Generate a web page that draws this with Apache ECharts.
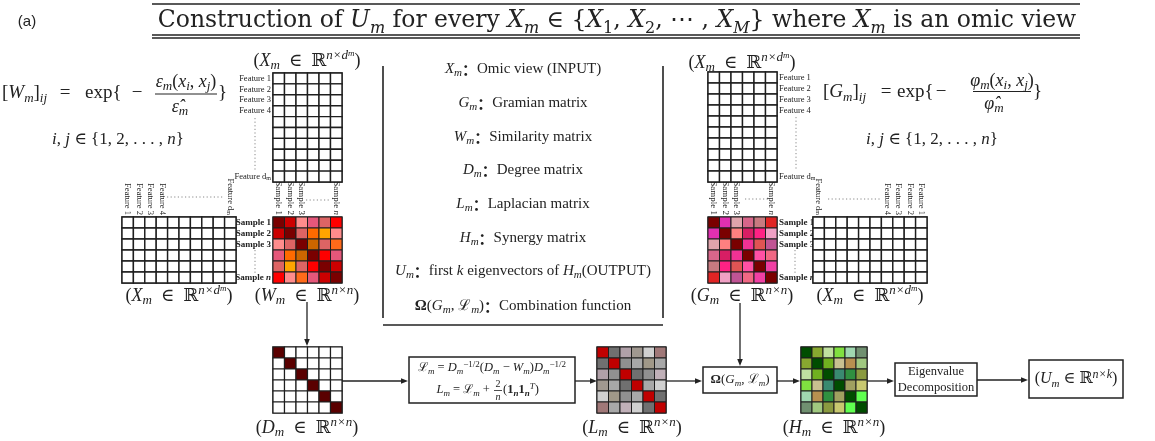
<!DOCTYPE html>
<html><head><meta charset="utf-8">
<script src="https://cdn.jsdelivr.net/npm/echarts@6/dist/echarts.min.js"></script>
<style>html,body{margin:0;padding:0;background:#fff}#c{width:1155px;height:441px}</style>
</head><body><div id="c"></div>
<script>
// ---------------- data ----------------
const FEATURE_ROWS = ['Feature 1','Feature 2','Feature 3','Feature 4','','','','','','Feature d{s|m}'];
const FEATURE_COLS = ['Feature 1','Feature 2','Feature 3','Feature 4','','','','','','Feature d{s|m}'];
const FEATURE_COLS_REV = ['Feature d{s|m}','','','','','','Feature 4','Feature 3','Feature 2','Feature 1'];
const SAMPLE_LABELS = ['Sample 1','Sample 2','Sample 3','','','Sample {i|n}'];

const W_CELLS = [
  ['#7a0000','#cc0000','#ff8c8c','#e5577a','#dd6464','#ff0000'],
  ['#cc0000','#7a0000','#dd6464','#ff6a00','#ffa500','#ff8c8c'],
  ['#ff8c8c','#dd6464','#7a0000','#cc6600','#dd6464','#ff6a1a'],
  ['#e5577a','#ff6a00','#cc6600','#7a0000','#ff0000','#e5577a'],
  ['#dd6464','#ffa500','#dd6464','#ff0000','#7a0000','#cc0000'],
  ['#ff0000','#ff8c8c','#ff6a1a','#e5577a','#cc0000','#7a0000']
];
const G_CELLS = [
  ['#7a0000','#e030b0','#e0a4ac','#d8668a','#c87a80','#e02424'],
  ['#e030b0','#7a0000','#ff8080','#d81e64','#ff2284','#f0a0c4'],
  ['#e0a4ac','#ff8080','#7a0000','#f03294','#e05454','#c05494'],
  ['#d8668a','#d81e64','#f03294','#7a0000','#ff50a4','#f06884'],
  ['#c87a80','#ff2284','#e05454','#ff50a4','#7a0000','#f040a4'],
  ['#e02424','#f0a0c4','#c05494','#f06884','#f040a4','#7a0000']
];
const D_CELLS = [
  ['#5a0000','#ffffff','#ffffff','#ffffff','#ffffff','#ffffff'],
  ['#ffffff','#5a0000','#ffffff','#ffffff','#ffffff','#ffffff'],
  ['#ffffff','#ffffff','#5a0000','#ffffff','#ffffff','#ffffff'],
  ['#ffffff','#ffffff','#ffffff','#5a0000','#ffffff','#ffffff'],
  ['#ffffff','#ffffff','#ffffff','#ffffff','#5a0000','#ffffff'],
  ['#ffffff','#ffffff','#ffffff','#ffffff','#ffffff','#5a0000']
];
const L_CELLS = [
  ['#c00000','#707070','#b0a0a8','#a09890','#d0d0d0','#a07878'],
  ['#707070','#c00000','#909090','#a8a8a8','#a09888','#a8a8a8'],
  ['#b0a0a8','#909090','#c00000','#707070','#909090','#c0b0b8'],
  ['#a09890','#a8a8a8','#707070','#c00000','#a8a8a8','#d0d0d0'],
  ['#d0d0d0','#a09888','#909090','#a8a8a8','#c00000','#707070'],
  ['#a07878','#a8a8a8','#c0b0b8','#d0d0d0','#707070','#c00000']
];
const H_CELLS = [
  ['#004d00','#88a830','#c0e0a0','#80e040','#a0d8b0','#709070'],
  ['#88a830','#004d00','#70b020','#c8c090','#b89050','#a0c880'],
  ['#c0e0a0','#70b020','#004d00','#3a8a70','#309040','#8a9a40'],
  ['#80e040','#c8c090','#3a8a70','#004d00','#a0a060','#c8c870'],
  ['#a0d8b0','#b89050','#309040','#a0a060','#004d00','#60ff50'],
  ['#709070','#a0c880','#8a9a40','#c8c870','#60ff50','#004d00']
];
// blank (unfilled) data matrices: rows x cols
const XTOP_SHAPE = [10, 6];
const XSIDE_SHAPE = [6, 10];

// ---------------- helpers ----------------
const SERIF = "'Liberation Serif','DejaVu Serif',serif";
const DSERIF = "'DejaVu Serif','Liberation Serif',serif";
const INK = '#222';
function blank(shape){ const o=[]; for(let r=0;r<shape[0];r++){const row=[];for(let c=0;c<shape[1];c++)row.push('#ffffff');o.push(row);} return o; }
function richSet(size, fam){
  fam = fam || SERIF;
  const lh = Math.round(size*1.3);
  const base = {fontFamily:fam, fill:INK, color:INK};
  return {
    r: Object.assign({}, base, {fontSize:size, lineHeight:lh}),
    i: Object.assign({}, base, {fontSize:size, fontStyle:'italic', lineHeight:lh}),
    b: Object.assign({}, base, {fontSize:size, fontWeight:'bold', lineHeight:lh}),
    s: Object.assign({}, base, {fontSize:Math.round(size*0.7), fontStyle:'italic', verticalAlign:'bottom', lineHeight:Math.round(size*0.82)}),
    rs: Object.assign({}, base, {fontSize:Math.round(size*0.7), verticalAlign:'bottom', lineHeight:Math.round(size*0.82)}),
    bs: Object.assign({}, base, {fontSize:Math.round(size*0.7), fontWeight:'bold', fontStyle:'italic', verticalAlign:'bottom', lineHeight:Math.round(size*0.82)}),
    p: Object.assign({}, base, {fontSize:Math.round(size*0.72), fontStyle:'italic', verticalAlign:'top', lineHeight:Math.round(size*0.75)}),
    rp: Object.assign({}, base, {fontSize:Math.round(size*0.7), verticalAlign:'top', lineHeight:Math.round(size*0.75)}),
    pp: Object.assign({}, base, {fontSize:Math.round(size*0.5), fontStyle:'italic', verticalAlign:'top', lineHeight:Math.round(size*1.0)}),
    c: {fontFamily:"'Noto Sans CJK SC',sans-serif", fontWeight:'bold', fontSize:size, fill:INK, color:INK, lineHeight:lh}
  };
}
function txt(x, y, str, size, align, family){
  align = align || 'center';
  return {type:'text', x:x, y:y, silent:true, z:10,
    style:{text:str, rich:richSet(size, family), fontSize:size, fontFamily:family||SERIF, fill:INK,
      align:align, textAlign:align, verticalAlign:'middle', textVerticalAlign:'middle'}};
}
function seg(x1,y1,x2,y2,w,dash,color){
  return {type:'line', silent:true, z:5, shape:{x1,y1,x2,y2},
    style:{stroke:color||INK, lineWidth:w||1.3, lineDash:dash||null}};
}
function arrow(x1,y1,x2,y2){
  const L=7, H=2.8;
  const dx=x2-x1, dy=y2-y1, len=Math.hypot(dx,dy), ux=dx/len, uy=dy/len;
  const bx=x2-ux*L, by=y2-uy*L;
  return [seg(x1,y1,bx,by,1.3),
    {type:'polygon', silent:true, z:6, shape:{points:[[x2,y2],[bx-uy*H,by+ux*H],[bx+uy*H,by-ux*H]]}, style:{fill:INK}}];
}
function box(x,y,w,h){
  return {type:'rect', silent:true, z:4, shape:{x,y,width:w,height:h}, style:{fill:'#fff', stroke:INK, lineWidth:1.5}};
}

// ---------------- matrices (grids) ----------------
const MATS = [
  {cells:blank(XTOP_SHAPE), left:273, top:73, w:69, h:109, yl:FEATURE_ROWS, yp:'left', bw:1.4},
  {cells:blank(XSIDE_SHAPE), left:122, top:217, w:114, h:66, xl:FEATURE_COLS, bw:1.4},
  {cells:W_CELLS, left:273, top:217, w:69, h:66, xl:SAMPLE_LABELS, yl:SAMPLE_LABELS, yp:'left', bw:1},
  {cells:D_CELLS, left:273, top:347, w:69, h:66, bw:1.2},
  {cells:L_CELLS, left:597, top:347, w:69, h:66, bw:1},
  {cells:H_CELLS, left:801, top:347, w:66, h:66, bw:1},
  {cells:blank(XTOP_SHAPE), left:708, top:72, w:69, h:110, yl:FEATURE_ROWS, yp:'right', bw:1.4},
  {cells:G_CELLS, left:708, top:217, w:69, h:66, xl:SAMPLE_LABELS, yl:SAMPLE_LABELS, yp:'right', bw:1},
  {cells:blank(XSIDE_SHAPE), left:813, top:217, w:114, h:66, xl:FEATURE_COLS_REV, bw:1.4}
];
const labelRich = {
  s:{fontFamily:SERIF, fontSize:6, verticalAlign:'bottom', lineHeight:9, color:INK},
  i:{fontFamily:SERIF, fontSize:9, fontStyle:'italic', color:INK, lineHeight:11}
};
const grids=[], xAxes=[], yAxes=[], series=[];
MATS.forEach((m, gi) => {
  const rows = m.cells.length, cols = m.cells[0].length;
  grids.push({left:m.left, top:m.top, width:m.w, height:m.h, show:true, borderColor:'#3a3a3a', borderWidth:1.6,
    backgroundColor:'transparent', containLabel:false, outerBoundsMode:'none'});
  const xcats = [], ycats = [];
  for (let c=0;c<cols;c++) xcats.push('c'+c);
  for (let r=0;r<rows;r++) ycats.push('r'+r);
  const isSample = m.xl === SAMPLE_LABELS;
  xAxes.push({gridIndex:gi, type:'category', data:xcats, position:'top',
    axisLine:{show:false}, axisTick:{show:false}, splitLine:{show:false},
    axisLabel:{show:!!m.xl, rotate:90, interval:0, margin:2, fontFamily:SERIF, fontSize:isSample?9:8.5, color:INK,
      formatter:(v,i)=> m.xl ? m.xl[i] : '', rich:labelRich}});
  const ySample = m.yl === SAMPLE_LABELS;
  yAxes.push({gridIndex:gi, type:'category', data:ycats, inverse:true, position:m.yp||'left',
    axisLine:{show:false}, axisTick:{show:false}, splitLine:{show:false},
    axisLabel:{show:!!m.yl, interval:0, margin:2, fontFamily:SERIF, fontSize:ySample?9:8.5, color:INK,
      fontWeight: ySample ? 'bold' : 'normal',
      formatter:(v,i)=> m.yl ? m.yl[i] : '', rich:labelRich}});
  const data = [];
  m.cells.forEach((row, r) => row.forEach((col, c) => data.push({value:[c, r], itemStyle:{color:col}})));
  series.push({type:'custom', xAxisIndex:gi, yAxisIndex:gi, silent:true, animation:false, data:data,
    renderItem:(params, api) => {
      const p = api.coord([api.value(0), api.value(1)]);
      const s = api.size([1, 1]);
      return {type:'rect', shape:{x:p[0]-s[0]/2, y:p[1]-s[1]/2, width:s[0], height:s[1]},
        style:{fill:api.visual('color'), stroke:'#1e1e1e', lineWidth:m.bw}};
    }});
});

// ---------------- text & connectors ----------------
const G = [];
// title
G.push(txt(27, 22, '(a)', 15, 'center', "'Liberation Sans','DejaVu Sans',sans-serif"));
G.push(txt(617, 21, '{r|Construction of }{i|U}{s|m}{r| for every }{i|X}{s|m}{r| ∈ {}{i|X}{rs|1}{r|, }{i|X}{rs|2}{r|, ⋯ , }{i|X}{s|M}}{r| where }{i|X}{s|m}{r| is an omic view}', 23.5, 'center', DSERIF));
G.push(seg(152, 4, 1080, 4, 1.5));
G.push(seg(152, 35, 1080, 35, 1.5));
G.push(seg(152, 38, 1080, 38, 1.5));

// left formula  [W_m]_ij = exp{ - eps/eps_hat }
G.push(txt(2, 93, '{r|[}{i|W}{s|m}{r|]}{s|ij}', 19, 'left'));
G.push(txt(65, 93, '=', 19));
G.push(txt(85, 93, 'exp{', 19, 'left'));
G.push(txt(137, 93, '−', 19));
G.push(txt(186, 82, '{i|ε}{s|m}{r|(}{i|x}{s|i}{r|, }{i|x}{s|j}{r|)}', 18));
G.push(seg(155, 94, 217, 94, 1));
G.push(txt(180, 107, '{i|ε̂}{s|m}', 18));
G.push(txt(218, 93, '}', 19, 'left'));
G.push(txt(118, 140, '{i|i}{r|, }{i|j}{r| ∈ {1, 2, . . . , }{i|n}}', 17));

// right formula
G.push(txt(823, 92, '{r|[}{i|G}{s|m}{r|]}{s|ij}', 19, 'left'));
G.push(txt(886, 92, '=', 19));
G.push(txt(897, 92, 'exp{', 19, 'left'));
G.push(txt(941, 92, '−', 19));
G.push(txt(1002, 81, '{i|φ}{s|m}{r|(}{i|x}{s|i}{r|, }{i|x}{s|j}{r|)}', 18));
G.push(seg(973, 91.5, 1031, 91.5, 1));
G.push(txt(994, 104, '{i|φ̂}{s|m}', 18));
G.push(txt(1033, 92, '}', 19, 'left'));
G.push(txt(932, 140, '{i|i}{r|, }{i|j}{r| ∈ {1, 2, . . . , }{i|n}}', 17));

// matrix captions
const XCAP = '{r|(}{i|X}{s|m}{r|  ∈  ℝ}{p|n×d}{pp|m}{r|)}';
function nnCap(sym){ return '{r|(}{i|' + sym + '}{s|m}{r|  ∈  ℝ}{p|n×n}{r|)}'; }
G.push(txt(307, 61, XCAP, 18));
G.push(txt(742, 63, XCAP, 18));
G.push(txt(179, 296, XCAP, 18));
G.push(txt(307, 296, nnCap('W'), 18));
G.push(txt(742, 296, nnCap('G'), 18));
G.push(txt(870, 296, XCAP, 18));
G.push(txt(307, 428, nnCap('D'), 18));
G.push(txt(632, 428, nnCap('L'), 18));
G.push(txt(834, 428, nnCap('H'), 18));

// dotted guides between labels
const DOT = [1.2, 2.4];
G.push(seg(255, 118, 255, 170, 1, DOT, '#888'));
G.push(seg(255, 250, 255, 275, 1, DOT, '#888'));
G.push(seg(167, 197, 224, 197, 1, DOT, '#888'));
G.push(seg(306, 200, 330, 200, 1, DOT, '#888'));
G.push(seg(796, 117, 796, 169, 1, DOT, '#888'));
G.push(seg(795, 250, 795, 275, 1, DOT, '#888'));
G.push(seg(745, 199, 768, 199, 1, DOT, '#888'));
G.push(seg(828, 199, 880, 199, 1, DOT, '#888'));

// legend panel
G.push(seg(383, 66, 383, 318, 1.6));
G.push(seg(663, 66, 663, 318, 1.6));
G.push(seg(383, 325, 663, 325, 1.6));
const LEG = [
  '{i|X}{s|m}{c|：}{r|Omic view (INPUT)}',
  '{i|G}{s|m}{c|：}{r|Gramian matrix}',
  '{i|W}{s|m}{c|：}{r|Similarity matrix}',
  '{i|D}{s|m}{c|：}{r|Degree matrix}',
  '{i|L}{s|m}{c|：}{r|Laplacian matrix}',
  '{i|H}{s|m}{c|：}{r|Synergy matrix}',
  '{i|U}{s|m}{c|：}{r|first }{i|k}{r| eigenvectors of }{i|H}{s|m}{r|(OUTPUT)}',
  '{b|Ω}{r|(}{i|G}{s|m}{r|, ℒ}{s|m}{r|)}{c|：}{r|Combination function}'
];
const LEG_Y = [69, 103, 137, 170, 204, 238, 271, 306];
LEG.forEach((s, k) => G.push(txt(523, LEG_Y[k], s, 15)));

// bottom pipeline
G.push(...arrow(307, 302, 307, 346));
G.push(...arrow(342, 381, 408, 381));
G.push(box(409, 357, 166, 46));
G.push(txt(492, 368, '{r|ℒ}{s|m}{r| = }{i|D}{s|m}{rp|−1/2}{r|(}{i|D}{s|m}{r| − }{i|W}{s|m}{r|)}{i|D}{s|m}{rp|−1/2}', 12.5));
G.push(txt(493, 390, '{i|L}{s|m}{r| = ℒ}{s|m}{r| + }', 12.5, 'right'));
G.push(txt(498, 384, '2', 10));
G.push(seg(494, 390.5, 502, 390.5, 0.8));
G.push(txt(498, 397, '{i|n}', 10));
G.push(txt(503, 390, '{r|(}{b|1}{bs|n}{b|1}{bs|n}{p|T}{r|)}', 12.5, 'left'));
G.push(...arrow(575, 381, 597, 381));
G.push(...arrow(666, 381, 702, 381));
G.push(...arrow(740, 303, 740, 366));
G.push(box(703, 367, 74, 26));
G.push(txt(740, 380, '{b|Ω}{r|(}{i|G}{s|m}{r|, ℒ}{s|m}{r|)}', 13));
G.push(...arrow(777, 381, 800, 381));
G.push(...arrow(867, 381, 894, 381));
G.push(box(895, 363, 82, 33));
G.push(txt(936, 372, 'Eigenvalue', 12.5));
G.push(txt(936, 388, 'Decomposition', 12.5));
G.push(...arrow(977, 380, 1028, 380));
G.push(box(1029, 360, 94, 38));
G.push(txt(1076, 379, '{r|(}{i|U}{s|m}{r| ∈ ℝ}{p|n×k}{r|)}', 16));

const chart = echarts.init(document.getElementById('c'), null, {renderer:'canvas'});
chart.setOption({
  backgroundColor:'#ffffff',
  animation:false,
  grid:grids, xAxis:xAxes, yAxis:yAxes, series:series,
  graphic:G
});
</script></body></html>
